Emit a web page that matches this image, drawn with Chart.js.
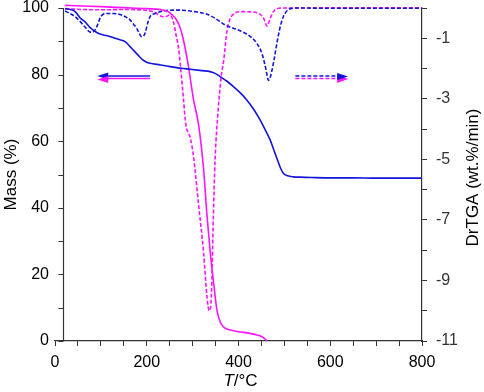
<!DOCTYPE html>
<html>
<head>
<meta charset="utf-8">
<script src="https://cdn.jsdelivr.net/npm/chart.js@4.4.1/dist/chart.umd.min.js"></script>
<style>
  html, body { margin: 0; padding: 0; background: #fff; }
  canvas { display: block; }
</style>
</head>
<body>
<canvas id="tga-chart" width="484" height="392"></canvas>
<script>
  'use strict';

  // Blue sample: mass curve (left axis)
  const blueMassT = [22, 35, 44, 55, 65, 76, 85, 94, 105, 116, 128, 138, 153, 167, 180, 190, 200, 207, 230, 251, 275, 295, 320, 338, 350, 360, 375, 389, 404, 418, 433, 447, 458, 469, 478, 486, 492, 498, 507, 520, 535, 560, 600, 650, 700, 750, 800];
  const blueMass = [99.8, 99.5, 98.9, 97.0, 95.9, 94.2, 93.2, 92.4, 91.9, 91.6, 91.1, 90.6, 89.9, 87.9, 86.0, 84.6, 83.7, 83.4, 82.9, 82.4, 81.9, 81.6, 81.2, 80.9, 80.3, 79.4, 78.0, 76.4, 74.5, 72.4, 69.6, 66.4, 63.5, 60.4, 57.0, 54.0, 51.8, 50.3, 49.6, 49.3, 49.2, 49.1, 49.0, 49.0, 48.9, 48.9, 48.9];

  // Magenta sample: mass curve (left axis)
  const pinkMassT = [22, 60, 100, 150, 200, 230, 245, 255, 265, 273, 280, 291, 302, 313, 324, 331, 338, 345, 353, 360, 367, 375, 382, 400, 425, 440, 452, 462];
  const pinkMass = [100.8, 100.6, 100.4, 100.1, 99.8, 99.5, 99.0, 98.0, 96.4, 94.0, 90.4, 82.4, 72.4, 65.0, 51.4, 38.3, 27.3, 18.3, 9.3, 5.8, 4.3, 3.6, 3.3, 2.8, 2.3, 1.8, 1.2, 0.1];

  // Blue sample: derivative curve (right axis)
  const blueDtgT = [22, 30, 44, 55, 65, 76, 82, 87, 93, 98, 104, 110, 127, 145, 155, 164, 172, 178, 184, 189, 193, 197, 202, 207, 218, 240, 268, 305, 330, 349, 371, 400, 422, 440, 451, 458, 462, 465, 469, 473, 477, 481, 485, 489, 493, 498, 504, 510, 518, 530, 600, 700, 800];
  const blueDtg = [-0.1, -0.16, -0.29, -0.45, -0.62, -0.79, -0.8, -0.73, -0.55, -0.34, -0.22, -0.18, -0.18, -0.23, -0.3, -0.4, -0.55, -0.67, -0.85, -0.95, -0.93, -0.8, -0.5, -0.29, -0.18, -0.09, -0.07, -0.12, -0.2, -0.34, -0.56, -0.73, -0.9, -1.17, -1.5, -1.9, -2.2, -2.39, -2.3, -2.05, -1.75, -1.4, -1.05, -0.75, -0.5, -0.28, -0.12, -0.04, -0.01, 0, -0.01, -0.01, -0.01];

  // Magenta sample: derivative curve (right axis)
  const pinkDtgT = [22, 60, 100, 150, 200, 218, 228, 240, 251, 258, 264, 269, 274, 280, 284, 287, 290, 295, 302, 313, 324, 331, 336, 339, 342, 345, 349, 355, 362, 368, 375, 386, 407, 430, 444, 455, 462, 469, 476, 495, 600, 700, 800];
  const pinkDtg = [-0.02, -0.05, -0.06, -0.05, -0.08, -0.15, -0.25, -0.29, -0.23, -0.45, -0.9, -1.3, -2.0, -3.0, -3.7, -4.0, -4.1, -4.3, -4.9, -6.5, -8.1, -9.5, -10.0, -9.9, -9.0, -7.0, -5.0, -3.5, -2.3, -1.7, -0.75, -0.25, -0.12, -0.13, -0.18, -0.34, -0.6, -0.35, -0.12, 0, 0.01, 0.01, 0.01];

  // Axis ranges and tick labels
  const xRange = [0, 800];
  const xLabels = [0, 200, 400, 600, 800];
  const massRange = [0, 100];
  const massLabels = [0, 20, 40, 60, 80, 100];
  const dtgRange = [-11, 0];
  const dtgLabels = [-11, -9, -7, -5, -3, -1];

  // Temperature where the left axis line sits (it is offset from x = 0)
  const LEFT_AXIS_T = 18;

  const BLUE = '#1414dc';
  const PINK = '#ff14ff';
  const AXIS = '#333';
  const FONT = 'Liberation Sans, Arial, Helvetica, sans-serif';

  /**
   * Zip two arrays into {x, y} points.
   */
  function toPoints(xs, ys) {
    return xs.map(function (x, i) { return { x: x, y: ys[i] }; });
  }

  /**
   * Fix a scale's size and drop the label overhang padding.
   */
  function fixSize(width, height) {
    return function (scale) {
      if (width) scale.width = width;
      if (height) scale.height = height;
      scale.paddingTop = 0;
      scale.paddingBottom = 0;
      scale.paddingLeft = 0;
      scale.paddingRight = 0;
    };
  }

  /**
   * Draw a filled arrowhead.
   */
  function arrowHead(ctx, tipX, tipY, dir, len, half, color) {
    ctx.fillStyle = color;
    ctx.beginPath();
    ctx.moveTo(tipX, tipY);
    ctx.lineTo(tipX - dir * len, tipY - half);
    ctx.lineTo(tipX - dir * len, tipY + half);
    ctx.closePath();
    ctx.fill();
  }

  /**
   * Offset left axis, arrows and axis titles.
   */
  const decorations = {
    id: 'decorations',
    afterDraw: function (chart) {
      const ctx = chart.ctx;
      const xs = chart.scales.x;
      const ym = chart.scales.y;
      const area = chart.chartArea;

      ctx.save();

      // Left axis line with outward ticks
      const ax = Math.round(xs.getPixelForValue(LEFT_AXIS_T)) + 0.5;
      ctx.strokeStyle = AXIS;
      ctx.lineWidth = 1.2;
      ctx.beginPath();
      ctx.moveTo(ax, area.top);
      ctx.lineTo(ax, area.bottom);
      ym.ticks.forEach(function (t) {
        const py = Math.round(ym.getPixelForValue(t.value)) + 0.5;
        ctx.moveTo(ax - 5, py);
        ctx.lineTo(ax, py);
      });
      ctx.stroke();

      // Arrow pointing to the mass axis (solid)
      const yb = ym.getPixelForValue(79.6);
      const yp = ym.getPixelForValue(78.8);
      const l0 = xs.getPixelForValue(92);
      const l1 = xs.getPixelForValue(207);
      ctx.lineWidth = 1.5;
      ctx.strokeStyle = BLUE;
      ctx.beginPath(); ctx.moveTo(l0 + 8, yb); ctx.lineTo(l1, yb); ctx.stroke();
      ctx.strokeStyle = PINK;
      ctx.beginPath(); ctx.moveTo(l0 + 8, yp); ctx.lineTo(l1, yp); ctx.stroke();
      arrowHead(ctx, l0, yb, -1, 11, 3.5, BLUE);
      arrowHead(ctx, l0, yp + 1, -1, 11, 3.5, PINK);

      // Arrow pointing to the DrTGA axis (dashed)
      const r0 = xs.getPixelForValue(524);
      const r1 = xs.getPixelForValue(639);
      ctx.setLineDash([4, 2]);
      ctx.strokeStyle = BLUE;
      ctx.beginPath(); ctx.moveTo(r0, yb); ctx.lineTo(r1 - 10, yb); ctx.stroke();
      ctx.strokeStyle = PINK;
      ctx.beginPath(); ctx.moveTo(r0, yp); ctx.lineTo(r1 - 10, yp); ctx.stroke();
      ctx.setLineDash([]);
      arrowHead(ctx, r1, yp + 0.5, 1, 11, 4, PINK);
      arrowHead(ctx, r1, yb + 0.5, 1, 11, 3.5, BLUE);

      // X axis title: italic T
      ctx.fillStyle = '#000';
      ctx.textBaseline = 'middle';
      const cx = (area.left + area.right) / 2 + 2;
      ctx.font = 'italic 17px ' + FONT;
      const wT = ctx.measureText('T').width;
      ctx.font = '17px ' + FONT;
      const wRest = ctx.measureText('/\u00b0C').width;
      const sx = cx - (wT + wRest) / 2;
      ctx.font = 'italic 17px ' + FONT;
      ctx.textAlign = 'left';
      ctx.fillText('T', sx, 381);
      ctx.font = '17px ' + FONT;
      ctx.fillText('/\u00b0C', sx + wT, 381);

      // Right axis title, reading bottom to top
      ctx.translate(473, (area.top + area.bottom) / 2 + 3);
      ctx.rotate(-Math.PI / 2);
      ctx.textAlign = 'center';
      ctx.fillText('DrTGA (wt.%/min)', 0, 0);

      ctx.restore();
    }
  };

  const ctx = document.getElementById('tga-chart').getContext('2d');

  new Chart(ctx, {
    type: 'line',
    data: {
      datasets: [
        {
          label: 'Mass A',
          data: toPoints(blueMassT, blueMass),
          yAxisID: 'y',
          borderColor: BLUE,
          borderWidth: 1.6
        },
        {
          label: 'Mass B',
          data: toPoints(pinkMassT, pinkMass),
          yAxisID: 'y',
          borderColor: PINK,
          borderWidth: 1.6,
          clip: 6
        },
        {
          label: 'DrTGA A',
          data: toPoints(blueDtgT, blueDtg),
          yAxisID: 'y2',
          borderColor: BLUE,
          borderWidth: 1.6,
          borderDash: [4, 2],
          clip: 6
        },
        {
          label: 'DrTGA B',
          data: toPoints(pinkDtgT, pinkDtg),
          yAxisID: 'y2',
          borderColor: PINK,
          borderWidth: 1.6,
          borderDash: [4, 2],
          clip: 6
        }
      ]
    },
    options: {
      responsive: false,
      devicePixelRatio: 1,
      animation: false,
      layout: { padding: { top: 8, left: 0, right: 0, bottom: 0 } },
      elements: {
        point: { radius: 0 },
        line: { cubicInterpolationMode: 'monotone', fill: false }
      },
      plugins: {
        legend: { display: false },
        tooltip: { enabled: false }
      },
      scales: {
        x: {
          type: 'linear',
          min: xRange[0],
          max: xRange[1],
          afterFit: fixSize(0, 51),
          border: { display: true, color: AXIS, width: 1.2 },
          grid: { drawOnChartArea: false, tickLength: 5, color: AXIS },
          ticks: {
            stepSize: 50,
            padding: 7,
            maxRotation: 0,
            autoSkip: false,
            color: '#000',
            font: { family: FONT, size: 16 },
            callback: function (v) { return xLabels.includes(v) ? String(v) : ''; }
          }
        },
        y: {
          position: 'left',
          min: massRange[0],
          max: massRange[1],
          afterFit: fixSize(55, 0),
          border: { display: false },
          grid: { display: false, drawTicks: false },
          title: {
            display: true,
            text: 'Mass (%)',
            color: '#000',
            font: { family: FONT, size: 17 },
            padding: { top: 1, bottom: 0 }
          },
          ticks: {
            stepSize: 10,
            padding: 6,
            autoSkip: false,
            color: '#000',
            font: { family: FONT, size: 16 },
            callback: function (v) { return massLabels.includes(v) ? String(v) : ''; }
          }
        },
        y2: {
          position: 'right',
          min: dtgRange[0],
          max: dtgRange[1],
          afterFit: fixSize(62, 0),
          border: { display: true, color: AXIS, width: 1.2 },
          grid: { drawOnChartArea: false, tickLength: 5, color: AXIS },
          ticks: {
            stepSize: 1,
            padding: 9,
            autoSkip: false,
            color: '#333',
            font: { family: FONT, size: 16 },
            callback: function (v) { return dtgLabels.includes(v) ? String(v) : ''; }
          }
        }
      }
    },
    plugins: [decorations]
  });
</script>
</body>
</html>
